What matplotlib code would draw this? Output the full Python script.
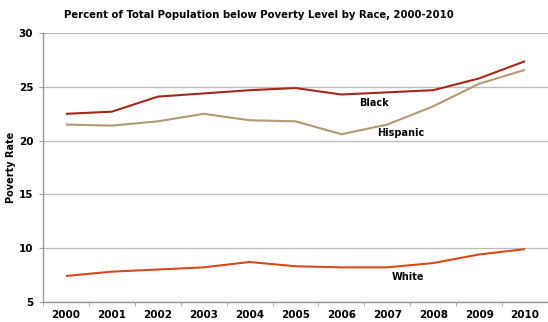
import matplotlib
matplotlib.use("Agg")
import matplotlib.pyplot as plt
import numpy as np

years = ["2000", "2001", "2002", "2003", "2004", "2005", "2006", "2007", "2008", "2009", "2010"]
black = [22.5, 22.7, 24.1, 24.4, 24.7, 24.9, 24.3, 24.5, 24.7, 25.8, 27.4]
hispanic = [21.5, 21.4, 21.8, 22.5, 21.9, 21.8, 20.6, 21.5, 23.2, 25.3, 26.6]
white = [7.4, 7.8, 8.0, 8.2, 8.7, 8.3, 8.2, 8.2, 8.6, 9.4, 9.9]
yticks = [5, 10, 15, 20, 25, 30]

plt.rcParams['font.family'] = ['DejaVu Sans']
fig = plt.figure(figsize=(5.48, 3.22), dpi=100)
ax = fig.add_axes([0.0785, 0.063, 0.9215, 0.8336])

x = np.arange(len(years))
ax.plot(x, black, color="#A3281C", lw=1.5, solid_capstyle="butt")
ax.plot(x, hispanic, color="#B29A74", lw=1.5, solid_capstyle="butt")
ax.plot(x, white, color="#D54A1C", lw=1.5, solid_capstyle="butt")

ax.set_xlim(-0.5, len(years) - 0.5)
ax.set_ylim(5, 30)
ax.set_yticks(yticks)
ax.set_yticklabels([str(v) for v in yticks], fontsize=7.5, fontweight="bold")
ax.set_xticks(x)
ax.set_xticklabels(years, fontsize=7.5, fontweight="bold")
ax.tick_params(axis="x", length=0, pad=6)
ax.set_xticks(np.arange(-0.5, len(years), 1), minor=True)
ax.tick_params(axis="x", which="minor", length=3, color="#A0A0A0")
ax.tick_params(axis="y", length=3, color="#A0A0A0", pad=4)

ax.grid(axis="y", color="#BDBDBD", lw=1.0)
ax.set_axisbelow(True)
for s in ["top", "right"]:
    ax.spines[s].set_visible(False)
for s in ["left", "bottom"]:
    ax.spines[s].set_color("#999999")
    ax.spines[s].set_linewidth(1.0)

ax.set_ylabel("Poverty Rate", fontsize=7, fontweight="bold", labelpad=2)

ax.text(6.72, 23.5, "Black", fontsize=7, fontweight="bold", ha="center", va="center")
ax.text(7.3, 20.7, "Hispanic", fontsize=7, fontweight="bold", ha="center", va="center")
ax.text(7.46, 7.3, "White", fontsize=7, fontweight="bold", ha="center", va="center")

fig.text(0.472, 0.953, "Percent of Total Population below Poverty Level by Race, 2000-2010",
         fontsize=7.3, fontweight="bold", ha="center", va="center")

fig.savefig("out.png", dpi=100)
